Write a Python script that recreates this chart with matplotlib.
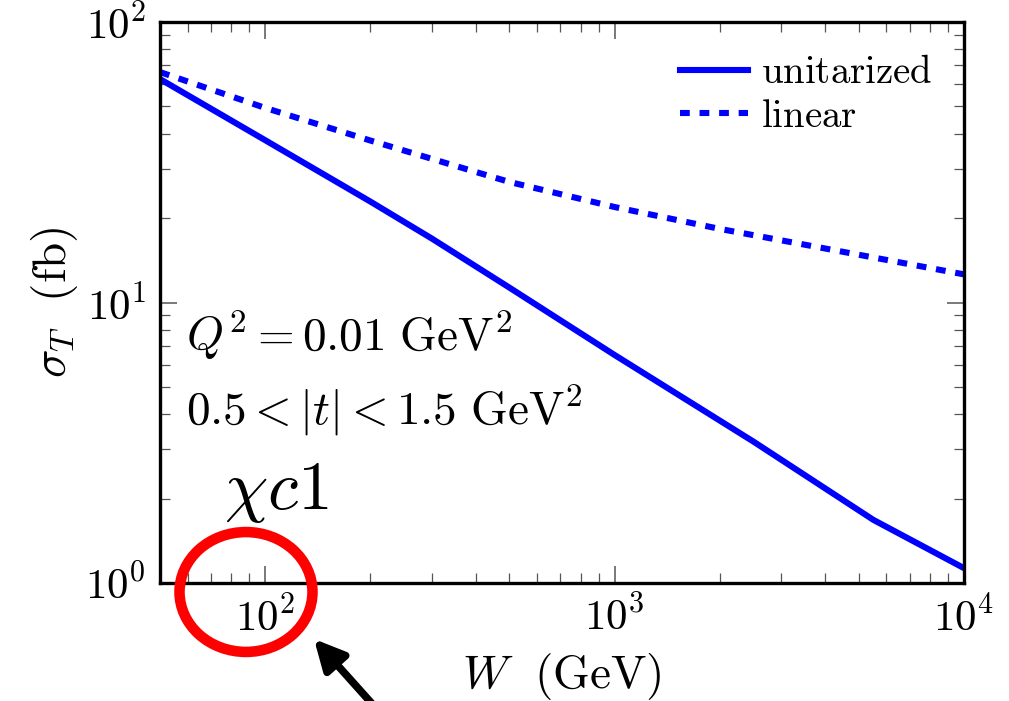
import math
import matplotlib
matplotlib.use("Agg")
import matplotlib.pyplot as plt
from matplotlib.patches import Ellipse
from matplotlib.ticker import FuncFormatter, LogLocator, NullFormatter

plt.rcParams['mathtext.fontset'] = 'cm'

# Cross sections
w_unit = [50, 100, 200, 300, 500, 1000, 2500, 5500, 10000]
sigma_unit = [62.6, 37.9, 22.9, 16.9, 11.3, 6.5, 3.19, 1.68, 1.13]

w_lin = [50, 100, 200, 500, 1000, 2000, 5000, 10000]
sigma_lin = [66.3, 49.4, 37.8, 26.9, 21.9, 18.3, 14.8, 12.6]

fig = plt.figure(figsize=(10.09, 7.01), dpi=100)
ax = fig.add_axes([0.1586, 0.1683, 0.7968, 0.8003])

ax.plot(w_unit, sigma_unit, color='#0000ff', lw=4.4, label=r'$\mathrm{unitarized}$')
ax.plot(w_lin, sigma_lin, color='#0000ff', lw=4.4, dashes=(1.6, 1.6),
        label=r'$\mathrm{linear}$')

ax.set_xscale('log')
ax.set_yscale('log')
ax.set_xlim(50, 1e4)
ax.set_ylim(1, 100)

# Format axes
fmt = FuncFormatter(lambda v, p: r'$10^{%d}$' % round(math.log10(v)))
ax.xaxis.set_major_formatter(fmt)
ax.yaxis.set_major_formatter(fmt)
ax.xaxis.set_minor_locator(LogLocator(subs=range(2, 10)))
ax.yaxis.set_minor_locator(LogLocator(subs=range(2, 10)))
ax.xaxis.set_minor_formatter(NullFormatter())
ax.yaxis.set_minor_formatter(NullFormatter())
ax.tick_params(which='both', direction='in', top=True, right=True,
               labelsize=31, color='#555555')
ax.tick_params(which='major', length=12, width=1.1, pad=10)
ax.tick_params(which='minor', length=7, width=0.9)
for s in ax.spines.values():
    s.set_linewidth(2.4)

ax.set_xlabel(r'$W\ \ (\mathrm{GeV})$', fontsize=34, labelpad=8)
ax.set_ylabel(r'$\sigma_T\ \ (\mathrm{fb})$', fontsize=34, labelpad=4)

ax.legend(loc='upper right', fontsize=28, frameon=False, handlelength=1.75,
          handletextpad=0.35, labelspacing=0.15, borderaxespad=0.4)

ax.text(0.032, 0.442, r'$Q^2 = 0.01\ \mathrm{GeV}^2$', transform=ax.transAxes,
        fontsize=34, va='center')
ax.text(0.032, 0.308, r'$0.5 < |t| < 1.5\ \mathrm{GeV}^2$', transform=ax.transAxes,
        fontsize=34, va='center')
ax.text(0.079, 0.163, r'$\chi c1$', transform=ax.transAxes, fontsize=50,
        va='center')

# Highlight around the 10^2 tick label
fig.patches.append(Ellipse((0.2438, 0.1555), 0.1318, 0.171, transform=fig.transFigure,
                           fill=False, edgecolor='#ff0000', lw=7.6))
ax.annotate('', xy=(314 / 1009, 62 / 701), xytext=(392 / 1009, -25 / 701),
            xycoords='figure fraction', textcoords='figure fraction',
            arrowprops=dict(arrowstyle='-|>', lw=5.5, color='black',
                            mutation_scale=45, shrinkA=0, shrinkB=0),
            annotation_clip=False)

fig.savefig('out.png', dpi=100)
